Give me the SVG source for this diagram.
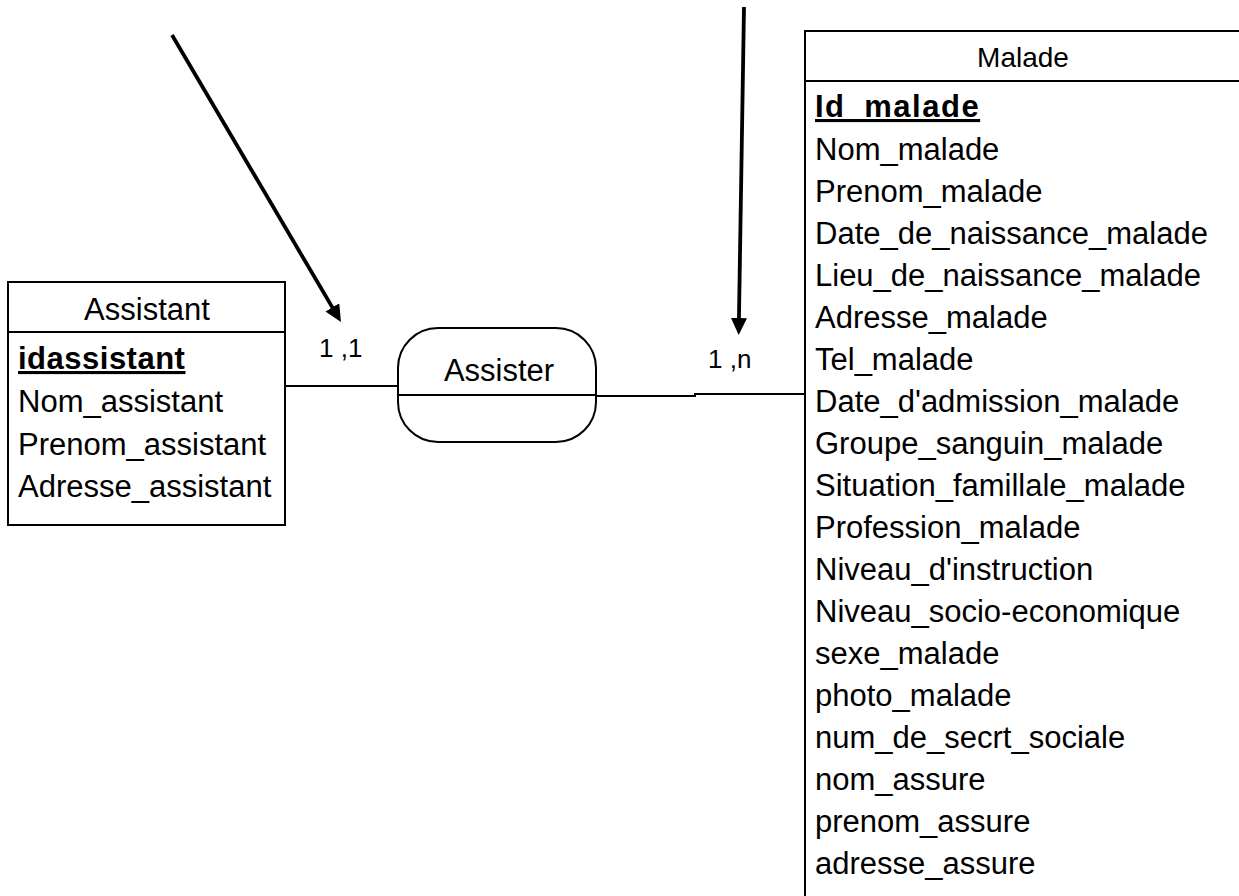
<svg xmlns="http://www.w3.org/2000/svg" width="1239" height="896" viewBox="0 0 1239 896">
<style>
text{font-family:"Liberation Sans",Arial,sans-serif;fill:#000}
.box{fill:#fff;stroke:#000;stroke-width:2}
.sep{stroke:#000;stroke-width:2}
.row{font-size:31px}
.key{font-size:31px;font-weight:bold;text-decoration:underline}
.title{font-size:31px;text-anchor:middle}
.card{font-size:26px}
.conn{fill:none;stroke:#000;stroke-width:2}
.arrow{fill:none;stroke:#000;stroke-width:3.8;marker-end:url(#ah)}
</style>
<defs>
<marker id="ah" markerUnits="userSpaceOnUse" markerWidth="17" markerHeight="16" refX="7" refY="8" orient="auto">
<path d="M0,0 L17,8 L0,16 z" fill="#000"/>
</marker>
</defs>
<rect width="1239" height="896" fill="#fff"/>
<g id="connectors">
<line class="conn" x1="285" y1="386" x2="398" y2="386"/>
<polyline class="conn" points="597,396 695,396 695,394 805,394"/>
<line class="arrow" x1="172" y1="35" x2="335.9" y2="313.4"/>
<line class="arrow" x1="744" y1="7" x2="738.85" y2="325"/>
<text class="card" x="319" y="357">1 ,1</text>
<text class="card" x="708" y="368">1 ,n</text>
</g>
<g id="assistant">
<rect class="box" x="8" y="282" width="277" height="243"/>
<line class="sep" x1="8" y1="332" x2="285" y2="332"/>
<text class="title" x="147" y="320">Assistant</text>
<text class="key" x="18" y="369" style="letter-spacing:0.5px">idassistant</text>
<text class="row" x="18" y="412">Nom_assistant</text>
<text class="row" x="18" y="455">Prenom_assistant</text>
<text class="row" x="18" y="497">Adresse_assistant</text>
</g>
<g id="assister">
<rect class="box" x="398" y="328" width="198" height="114" rx="40" ry="40"/>
<line class="sep" x1="398" y1="395" x2="596" y2="395"/>
<text class="title" x="499" y="381">Assister</text>
</g>
<g id="malade">
<rect class="box" x="805" y="31" width="460" height="900"/>
<line class="sep" x1="805" y1="81" x2="1239" y2="81"/>
<text class="title" x="1023" y="67" style="font-size:28px">Malade</text>
<text class="key" x="815" y="117" style="letter-spacing:1.5px">Id_malade</text>
<text class="row" x="815" y="160">Nom_malade</text>
<text class="row" x="815" y="202">Prenom_malade</text>
<text class="row" x="815" y="244">Date_de_naissance_malade</text>
<text class="row" x="815" y="286">Lieu_de_naissance_malade</text>
<text class="row" x="815" y="328">Adresse_malade</text>
<text class="row" x="815" y="370">Tel_malade</text>
<text class="row" x="815" y="412">Date_d'admission_malade</text>
<text class="row" x="815" y="454">Groupe_sanguin_malade</text>
<text class="row" x="815" y="496">Situation_famillale_malade</text>
<text class="row" x="815" y="538">Profession_malade</text>
<text class="row" x="815" y="580">Niveau_d'instruction</text>
<text class="row" x="815" y="622">Niveau_socio-economique</text>
<text class="row" x="815" y="664">sexe_malade</text>
<text class="row" x="815" y="706">photo_malade</text>
<text class="row" x="815" y="748">num_de_secrt_sociale</text>
<text class="row" x="815" y="790">nom_assure</text>
<text class="row" x="815" y="832">prenom_assure</text>
<text class="row" x="815" y="874">adresse_assure</text>
</g>
</svg>
